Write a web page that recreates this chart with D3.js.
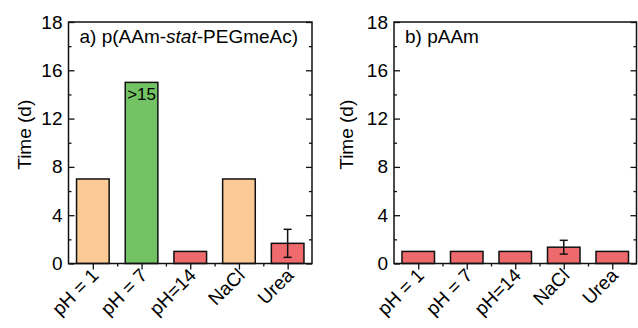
<!DOCTYPE html>
<html><head><meta charset="utf-8">
<script src="https://cdn.jsdelivr.net/npm/d3@7"></script>
<style>body{margin:0;background:#fff}svg{display:block;font-family:"Liberation Sans",Arial,sans-serif}</style>
</head><body>
<svg id="c" width="638" height="328"></svg>
<script>
const categories = ["pH = 1", "pH = 7", "pH=14", "NaCl", "Urea"];
const valuesA = [7, 15, 1, 7, 1.67];
const errorsA = [0, 0, 0, 0, 1.16];
const colorsA = ["#FBCA96", "#73C264", "#EE6A6C", "#FBCA96", "#EE6A6C"];
const valuesB = [1, 1, 1, 1.35, 1];
const errorsB = [0, 0, 0, 0.57, 0];
const colorsB = ["#EE6A6C", "#EE6A6C", "#EE6A6C", "#EE6A6C", "#EE6A6C"];
const yTickValues = [0, 4, 8, 12, 16, 20];
const yTickLabels = ["0", "4", "8", "12", "16", "18"];
const yMinorValues = [2, 6, 10, 14, 18];
const titleA = ["a) p(AAm-", "stat", "-PEGmeAc)"];
const titleB = "b) pAAm";
const yLabel = "Time (d)";

const svg = d3.select("#c");
const INK = "#000";

function panel(opts) {
  const {x0, x1, y0, y1, values, errors, colors, title, note, labelX} = opts;
  const g = svg.append("g");
  const x = d3.scaleBand().domain(categories).range([x0, x1]).paddingInner(0.33).paddingOuter(0.165);
  const xc = d3.scalePoint().domain(categories).range([x0, x1]).padding(0.5);
  const y = d3.scaleLinear().domain([0, 20]).range([y1, y0]);

  // bars
  g.selectAll("rect.bar").data(categories).join("rect")
    .attr("x", d => x(d)).attr("width", x.bandwidth())
    .attr("y", (d, i) => y(values[i])).attr("height", (d, i) => y(0) - y(values[i]))
    .attr("fill", (d, i) => colors[i]).attr("stroke", "#111").attr("stroke-width", 1.5);

  // error bars
  categories.forEach((d, i) => {
    if (!errors[i]) return;
    const cx = xc(d);
    const lo = y(values[i] - errors[i]), hi = y(values[i] + errors[i]);
    g.append("line").attr("x1", cx).attr("x2", cx).attr("y1", lo).attr("y2", hi).attr("stroke", "#111").attr("stroke-width", 1.5);
    [lo, hi].forEach(yy => g.append("line").attr("x1", cx - 4).attr("x2", cx + 4).attr("y1", yy).attr("y2", yy).attr("stroke", "#111").attr("stroke-width", 1.5));
  });

  // left axis (inward ticks)
  g.append("g").attr("transform", `translate(${x0},0)`)
    .call(d3.axisRight(y).tickValues(yTickValues).tickSize(6).tickFormat("")).select(".domain").remove();
  g.append("g").attr("transform", `translate(${x0},0)`)
    .call(d3.axisRight(y).tickValues(yMinorValues).tickSize(3).tickFormat("")).select(".domain").remove();
  // right axis inward
  g.append("g").attr("transform", `translate(${x1},0)`)
    .call(d3.axisLeft(y).tickValues(yTickValues).tickSize(6).tickFormat("")).select(".domain").remove();
  g.append("g").attr("transform", `translate(${x1},0)`)
    .call(d3.axisLeft(y).tickValues(yMinorValues).tickSize(3).tickFormat("")).select(".domain").remove();
  // left tick labels
  yTickValues.forEach((v, i) => {
    g.append("text").attr("x", x0 - 6).attr("y", y(v) + 6.5).attr("text-anchor", "end")
      .attr("font-size", 19).attr("fill", INK).text(yTickLabels[i]);
  });
  // bottom axis (outward)
  g.append("g").attr("transform", `translate(0,${y1})`)
    .call(d3.axisBottom(xc).tickSize(6).tickFormat("")).select(".domain").remove();
  const bounds = categories.slice(1).map((d, i) => (xc(categories[i]) + xc(d)) / 2);
  g.append("g").attr("transform", `translate(0,${y1})`)
    .call(d3.axisBottom(d3.scaleLinear().domain([x0, x1]).range([x0, x1])).tickValues(bounds).tickSize(3).tickFormat(""))
    .select(".domain").remove();
  g.selectAll(".tick line").attr("stroke", "#111").attr("stroke-width", 1.3);

  // frame
  g.append("rect").attr("x", x0).attr("y", y0).attr("width", x1 - x0).attr("height", y1 - y0)
    .attr("fill", "none").attr("stroke", "#111").attr("stroke-width", 1.5);

  // x labels
  categories.forEach(d => {
    g.append("text").attr("transform", `translate(${xc(d) + 7},${y1 + 13}) rotate(-45)`)
      .attr("text-anchor", "end").attr("font-size", 19).attr("fill", INK).text(d);
  });

  // y label
  g.append("text").attr("transform", `translate(${labelX},${(y0 + y1) / 2 - 8}) rotate(-90)`)
    .attr("text-anchor", "middle").attr("font-size", 19).attr("fill", INK).text(yLabel);

  // title
  const t = g.append("text").attr("x", x0 + 11).attr("y", y0 + 21).attr("font-size", 19).attr("fill", INK);
  if (Array.isArray(title)) {
    t.append("tspan").text(title[0]);
    t.append("tspan").attr("font-style", "italic").text(title[1]);
    t.append("tspan").text(title[2]);
  } else t.text(title);

  if (note) {
    g.append("text").attr("x", xc(categories[note.index])).attr("y", y(values[note.index]) + 18)
      .attr("text-anchor", "middle").attr("font-size", 17).attr("fill", INK).text(note.text);
  }
}

panel({x0: 68.5, x1: 312, y0: 22, y1: 263.5, values: valuesA, errors: errorsA, colors: colorsA,
  title: titleA, note: {index: 1, text: ">15"}, labelX: 31});
panel({x0: 394, x1: 636.5, y0: 22, y1: 263.5, values: valuesB, errors: errorsB, colors: colorsB,
  title: titleB, labelX: 353});
</script>
</body></html>
